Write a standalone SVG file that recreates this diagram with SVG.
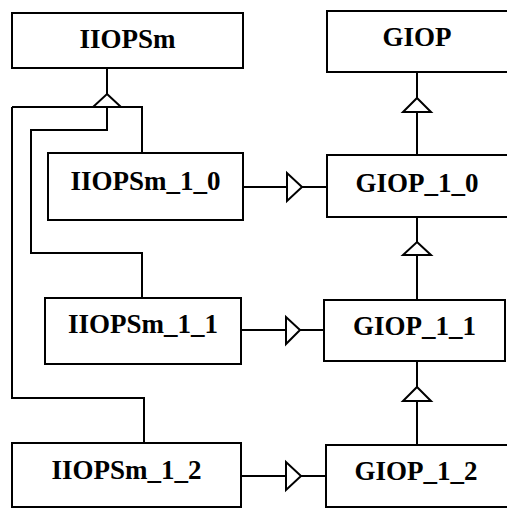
<svg xmlns="http://www.w3.org/2000/svg" width="507" height="509" viewBox="0 0 507 509">
<style>
.box{fill:#fff;stroke:#000;stroke-width:2}
.t{font-family:"Liberation Serif","Times New Roman",serif;font-weight:bold;font-size:27px;text-anchor:middle;fill:#000}
.c{fill:none;stroke:#000;stroke-width:2}
.tri{fill:#fff;stroke:#000;stroke-width:2;stroke-linejoin:miter}
</style>
<rect width="507" height="509" fill="#fff"/>
<g id="connectors">
<polyline class="c" points="107,68 107,94"/>
<polyline class="c" points="12,107 93,107"/>
<polyline class="c" points="121,107 142,107 142,153"/>
<polyline class="c" points="107,107 107,130 31,130 31,253 142,253 142,298"/>
<polyline class="c" points="12,107 12,398 144,398 144,443"/>
<polygon class="tri" points="107,94 121,107 93,107"/>
<polyline class="c" points="417,72 417,98"/>
<polyline class="c" points="417,112 417,155"/>
<polygon class="tri" points="417,98 431,112 403,112"/>
<polyline class="c" points="417,217 417,242"/>
<polyline class="c" points="417,255 417,300"/>
<polygon class="tri" points="417,242 431,255 403,255"/>
<polyline class="c" points="417,361 417,387"/>
<polyline class="c" points="417,401 417,445"/>
<polygon class="tri" points="417,387 431,401 403,401"/>
<polyline class="c" points="243,187 287,187"/>
<polyline class="c" points="302,187 327,187"/>
<polygon class="tri" points="302,187 287,173 287,201"/>
<polyline class="c" points="241,330 286,330"/>
<polyline class="c" points="300,330 324,330"/>
<polygon class="tri" points="300,330 286,317 286,344"/>
<polyline class="c" points="241,476 286,476"/>
<polyline class="c" points="301,476 326,476"/>
<polygon class="tri" points="301,476 286,462 286,490"/>
</g>
<g id="IIOPSm"><rect class="box" x="12" y="13" width="231" height="55"/><text class="t" x="127.5" y="48">IIOPSm</text></g>
<g id="IIOPSm_1_0"><rect class="box" x="48" y="153" width="195" height="67"/><text class="t" x="145.5" y="190">IIOPSm_1_0</text></g>
<g id="IIOPSm_1_1"><rect class="box" x="45" y="298" width="196" height="66"/><text class="t" x="143" y="333">IIOPSm_1_1</text></g>
<g id="IIOPSm_1_2"><rect class="box" x="12" y="443" width="229" height="64"/><text class="t" x="126.5" y="479">IIOPSm_1_2</text></g>
<g id="GIOP"><rect class="box" x="327" y="11" width="182" height="61"/><text class="t" x="417" y="46">GIOP</text></g>
<g id="GIOP_1_0"><rect class="box" x="327" y="155" width="182" height="62"/><text class="t" x="417" y="192">GIOP_1_0</text></g>
<g id="GIOP_1_1"><rect class="box" x="324" y="300" width="181" height="61"/><text class="t" x="414.5" y="335">GIOP_1_1</text></g>
<g id="GIOP_1_2"><rect class="box" x="326" y="445" width="183" height="62"/><text class="t" x="416" y="480">GIOP_1_2</text></g>
</svg>
